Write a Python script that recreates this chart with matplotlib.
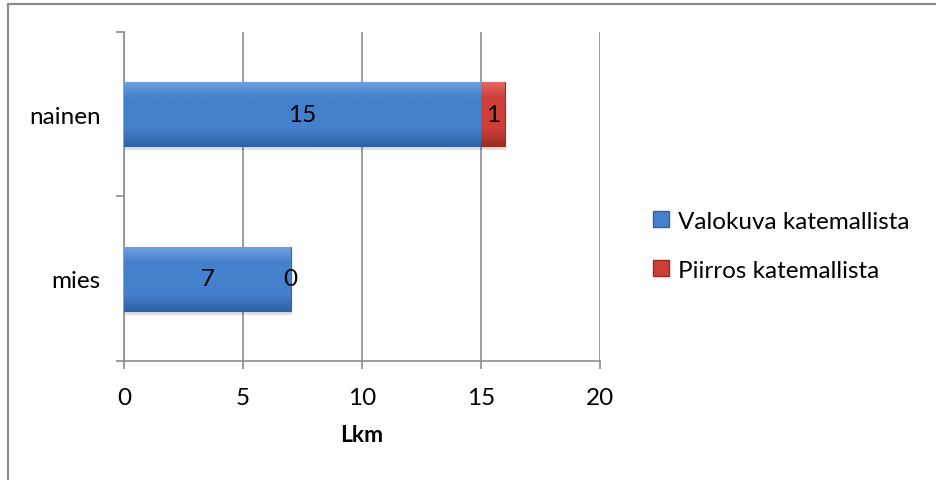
import numpy as np
import matplotlib
matplotlib.use("Agg")
import matplotlib.pyplot as plt
from matplotlib.patches import Rectangle
from matplotlib.lines import Line2D

plt.rcParams['font.family'] = ['Lato', 'DejaVu Sans']

categories = ["mies", "nainen"]
series_names = ["Valokuva katemallista", "Piirros katemallista"]
valokuva = [7, 15]
piirros = [0, 1]
x_ticks = [0, 5, 10, 15, 20]
x_label = "Lkm"

blue_top, blue_mid, blue_bot = "#6ea3e3", "#4580cc", "#2f62a8"
red_top, red_mid, red_bot = "#e46a62", "#cc3f38", "#9b2a25"
grid_col = "#8c8c8c"
FS = 17.5

fig = plt.figure(figsize=(9.36, 4.81), dpi=100)
ax = fig.add_axes([0.1325, 0.2474, 0.5085, 0.684])

# outer chart frame
fig.add_artist(Line2D([0.0085, 0.0085, 1.0], [0.0, 0.99, 0.99],
                      transform=fig.transFigure, color=grid_col, lw=1.6))

ypos = np.arange(len(categories))
height = 0.39


def gradient_bar(y, left, width, c_top, c_mid, c_bot):
    if width <= 0:
        return
    bar = ax.barh(y, width, height=height, left=left, color=c_mid,
                  edgecolor=c_bot, linewidth=0.8, zorder=3)[0]
    cmap = matplotlib.colors.LinearSegmentedColormap.from_list(
        "g", [c_bot, c_mid, c_mid, c_mid, c_top])
    grad = np.linspace(0, 1, 64).reshape(-1, 1)
    im = ax.imshow(grad, cmap=cmap, aspect="auto", origin="lower",
                   extent=[left, left + width, y - height / 2, y + height / 2],
                   zorder=3.5)
    im.set_clip_path(bar)
    # soft shadow below the bar
    ax.add_patch(Rectangle((left + 0.05, y - height / 2 - 0.025), width, 0.025,
                           facecolor="#000000", alpha=0.12, lw=0, zorder=2.5))


for i, y in enumerate(ypos):
    gradient_bar(y, 0, valokuva[i], blue_top, blue_mid, blue_bot)
    gradient_bar(y, valokuva[i], piirros[i], red_top, red_mid, red_bot)
    ax.text(valokuva[i] / 2, y, str(valokuva[i]), ha="center", va="center",
            fontsize=FS, color="black", zorder=5)
    ax.text(valokuva[i] + piirros[i] / 2, y, str(piirros[i]), ha="center",
            va="center", fontsize=FS, color="black", zorder=5)

ax.set_xlim(0, 20)
ax.set_ylim(-0.5, 1.5)
ax.set_xticks(x_ticks)
ax.set_xticklabels([str(t) for t in x_ticks], fontsize=FS)
ax.set_yticks(ypos)
ax.set_yticklabels(categories, fontsize=FS)
ax.set_yticks([-0.5, 0.5, 1.5], minor=True)
ax.tick_params(axis="y", which="major", length=0, pad=17)
ax.tick_params(axis="y", which="minor", length=6, width=1.2, color=grid_col,
               direction="out")
ax.tick_params(axis="x", length=6, width=1.2, color=grid_col, direction="out",
               pad=13)
ax.set_xlabel(x_label, fontsize=16.5, fontweight="bold", labelpad=11)

ax.grid(axis="x", color=grid_col, lw=1.2, zorder=1)
ax.set_axisbelow(True)
for side in ["top", "right"]:
    ax.spines[side].set_visible(False)
for side in ["left", "bottom"]:
    ax.spines[side].set_color(grid_col)
    ax.spines[side].set_linewidth(1.2)

handles = [Rectangle((0, 0), 1, 1, facecolor=blue_mid, edgecolor=blue_bot),
           Rectangle((0, 0), 1, 1, facecolor=red_mid, edgecolor=red_bot)]
fig.legend(handles, series_names, loc="center left",
           bbox_to_anchor=(0.68, 0.487), frameon=False, fontsize=FS,
           handlelength=0.65, handleheight=0.65, handletextpad=0.35,
           labelspacing=1.15, borderpad=0.2)

fig.savefig("out.png", dpi=100)
